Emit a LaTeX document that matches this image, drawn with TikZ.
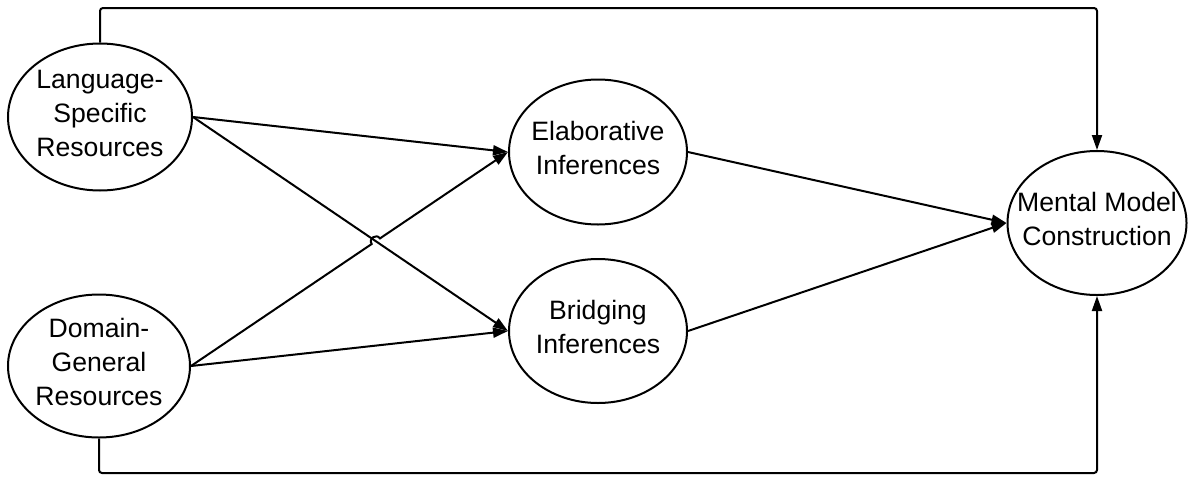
\documentclass[tikz,border=0pt]{standalone}
\usepackage{fontspec}
\setmainfont{Liberation Sans}
\usetikzlibrary{arrows.meta,calc,shapes.geometric}
\begin{document}
\begin{tikzpicture}[x=0.5pt,y=-0.5pt,
  el/.style={ellipse,draw,line width=1pt,inner sep=0pt},
  txt/.style={align=center,inner sep=0pt,yshift=2pt,font=\fontsize{13.3pt}{17pt}\selectfont},
  conn/.style={line width=1pt,-{Triangle[length=7.5pt,width=5pt]}},
  wire/.style={line width=1pt,rounded corners=1.5pt,-{Triangle[length=7.5pt,width=5pt]}}
]
\useasboundingbox (0,0) rectangle (1188,477);
\node[el,minimum width=92pt,minimum height=73.5pt,label={[txt]center:{Language-\\Specific\\Resources}}] (lsr) at (100,117) {};
\node[el,minimum width=91pt,minimum height=71.5pt,label={[txt]center:{Domain-\\General\\Resources}}] (dgr) at (99,366) {};
\node[el,minimum width=89pt,minimum height=72.5pt,label={[txt]center:{Elaborative\\Inferences}}] (elab) at (598,152) {};
\node[el,minimum width=89pt,minimum height=72pt,label={[txt]center:{Bridging\\Inferences}}] (bri) at (598,331) {};
\node[el,minimum width=89.5pt,minimum height=72pt,label={[txt]center:{Mental Model\\Construction}}] (mmc) at (1097,223) {};
\coordinate (top) at (0,8);
\coordinate (bot) at (0,473);
% straight arrows
\draw[conn] (lsr.east) -- (elab.west);
\draw[conn] (lsr.east) -- (bri.west);
\draw[conn] (dgr.east) -- (bri.west);
\draw[conn] (elab.east) -- (mmc.west);
\draw[conn] (bri.east) -- (mmc.west);
% crossing with a hop
\coordinate (X) at (intersection of lsr.east--bri.west and dgr.east--elab.west);
\coordinate (P1) at ($(X)!2.5pt!(dgr.east)$);
\coordinate (P2) at ($(X)!2.5pt!(elab.west)$);
\coordinate (C1) at ($(P1)!3.2pt!90:(X)$);
\coordinate (C2) at ($(P2)!3.2pt!-90:(X)$);
\draw[conn] (dgr.east) -- (P1) .. controls (C1) and (C2) .. (P2) -- (elab.west);
% outer connectors
\draw[wire] (lsr.north) -- (lsr.north |- top) -| (mmc.north);
\draw[wire] (dgr.south) -- (dgr.south |- bot) -| (mmc.south);
\end{tikzpicture}
\end{document}
